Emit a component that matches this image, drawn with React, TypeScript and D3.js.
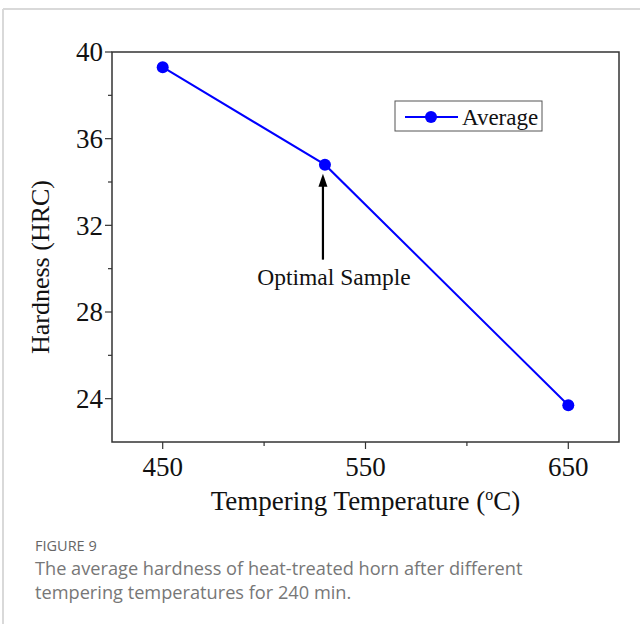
import React from "react";
import * as d3 from "d3";

// Tempering temperature (°C) and average hardness (HRC)
const temperatures = [450, 530, 650];
const hardness = [39.3, 34.8, 23.7];

const xTicksMajor = [450, 550, 650];
const xTicksMinor = [500, 600];
const yTicksMajor = [24, 28, 32, 36, 40];
const yTicksMinor = [26, 30, 34, 38];

const seriesName = "Average";
const annotationText = "Optimal Sample";
const annotationTemp = 530;
const captionTitle = "FIGURE 9";
const captionLines = [
  "The average hardness of heat-treated horn after different",
  "tempering temperatures for 240 min.",
];

const W = 640;
const H = 624;
const frame = { left: 112, right: 619, top: 52, bottom: 442 };

export default function App() {
  const x = d3.scaleLinear().domain([425, 675]).range([frame.left, frame.right]);
  const y = d3.scaleLinear().domain([22, 40]).range([frame.bottom, frame.top]);

  const pts = temperatures.map((t, i) => [t, hardness[i]] as [number, number]);
  const line = d3
    .line<[number, number]>()
    .x((d) => x(d[0]))
    .y((d) => y(d[1]));

  const serif = "'Liberation Serif', 'Times New Roman', serif";
  const sans = "'Open Sans', 'Noto Sans', sans-serif";
  const blue = "#0000ff";

  const annIdx = temperatures.indexOf(annotationTemp);
  const ax = x(annotationTemp) - 2;
  const ay = y(hardness[annIdx]);

  return (
    <svg
      width={W}
      height={H}
      style={{ position: "absolute", left: 0, top: 0, background: "#fff" }}
    >
      {/* card outline */}
      <line x1={3} y1={9} x2={W} y2={9} stroke="#d9d9d9" strokeWidth={2} />
      <line x1={3} y1={9} x2={3} y2={H} stroke="#d9d9d9" strokeWidth={2} />

      {/* plot frame */}
      <rect
        x={frame.left}
        y={frame.top}
        width={frame.right - frame.left}
        height={frame.bottom - frame.top}
        fill="none"
        stroke="#333"
        strokeWidth={1.5}
      />

      {/* y axis ticks */}
      {yTicksMajor.map((v) => (
        <g key={"ym" + v}>
          <line x1={frame.left - 7} x2={frame.left} y1={y(v)} y2={y(v)} stroke="#333" strokeWidth={1.2} />
          <text
            x={frame.left - 9}
            y={y(v)}
            dy="0.34em"
            textAnchor="end"
            fontFamily={serif}
            fontSize={27}
            fill="#111"
          >
            {v}
          </text>
        </g>
      ))}
      {yTicksMinor.map((v) => (
        <line key={"yn" + v} x1={frame.left - 4} x2={frame.left} y1={y(v)} y2={y(v)} stroke="#333" strokeWidth={1.2} />
      ))}

      {/* x axis ticks */}
      {xTicksMajor.map((v) => (
        <g key={"xm" + v}>
          <line x1={x(v)} x2={x(v)} y1={frame.bottom} y2={frame.bottom + 7} stroke="#333" strokeWidth={1.2} />
          <text
            x={x(v)}
            y={frame.bottom + 34}
            textAnchor="middle"
            fontFamily={serif}
            fontSize={27}
            fill="#111"
          >
            {v}
          </text>
        </g>
      ))}
      {xTicksMinor.map((v) => (
        <line key={"xn" + v} x1={x(v)} x2={x(v)} y1={frame.bottom} y2={frame.bottom + 4} stroke="#333" strokeWidth={1.2} />
      ))}

      {/* axis titles */}
      <text
        x={(frame.left + frame.right) / 2}
        y={510}
        textAnchor="middle"
        fontFamily={serif}
        fontSize={27}
        fill="#111"
      >
        Tempering Temperature (
        <tspan dy={-10} fontSize={16}>o</tspan>
        <tspan dy={10}>C)</tspan>
      </text>
      <text
        transform={`translate(49, ${(frame.top + frame.bottom) / 2 + 20}) rotate(-90)`}
        textAnchor="middle"
        fontFamily={serif}
        fontSize={26}
        fill="#111"
      >
        Hardness (HRC)
      </text>

      {/* data series */}
      <path d={line(pts) ?? ""} fill="none" stroke={blue} strokeWidth={2} />
      {pts.map((d, i) => (
        <circle key={i} cx={x(d[0])} cy={y(d[1])} r={6} fill={blue} />
      ))}

      {/* annotation arrow */}
      <line x1={ax} x2={ax} y1={ay + 20} y2={ay + 95} stroke="#000" strokeWidth={2.2} />
      <path
        d={`M${ax},${ay + 9} L${ax - 4.5},${ay + 22} L${ax + 4.5},${ay + 22} Z`}
        fill="#000"
      />
      <text
        x={ax + 11}
        y={ay + 120}
        textAnchor="middle"
        fontFamily={serif}
        fontSize={23.5}
        fill="#111"
      >
        {annotationText}
      </text>

      {/* legend */}
      <rect x={395} y={101} width={147} height={30} fill="#fff" stroke="#555" strokeWidth={1} />
      <line x1={405} x2={458} y1={117} y2={117} stroke={blue} strokeWidth={2} />
      <circle cx={431} cy={117} r={6} fill={blue} />
      <text x={462} y={125} fontFamily={serif} fontSize={23} fill="#111">
        {seriesName}
      </text>

      {/* caption */}
      <text x={35} y={551} fontFamily={sans} fontSize={14.5} fill="#666">
        {captionTitle}
      </text>
      {captionLines.map((s, i) => (
        <text key={i} x={35} y={575 + i * 24} fontFamily={sans} fontSize={18.2} fill="#777">
          {s}
        </text>
      ))}
    </svg>
  );
}
